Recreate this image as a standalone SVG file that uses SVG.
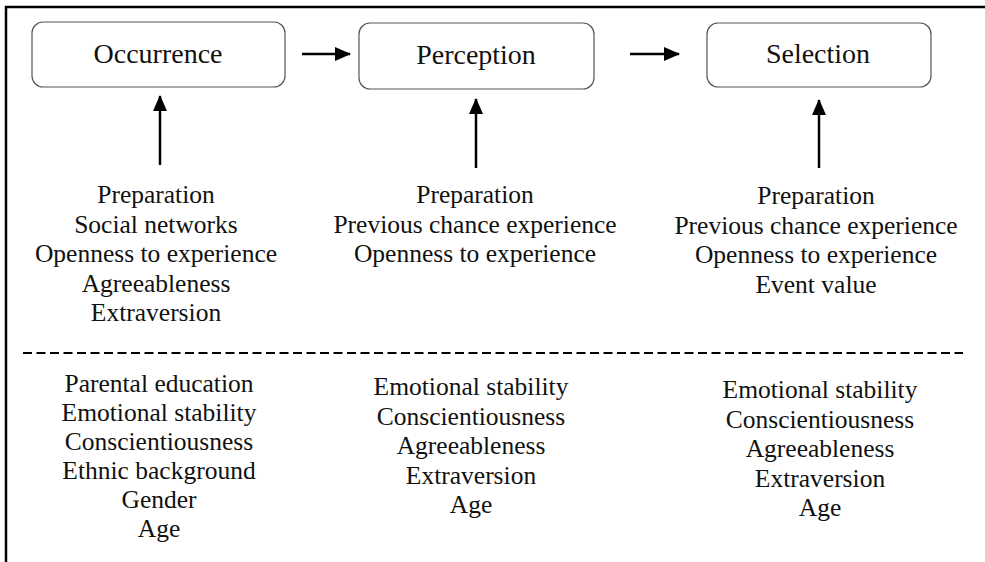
<svg xmlns="http://www.w3.org/2000/svg" width="985" height="562" viewBox="0 0 985 562">
<defs>
<marker id="ah" markerWidth="16" markerHeight="14" refX="15" refY="7" orient="auto" markerUnits="userSpaceOnUse" viewBox="0 0 16 14">
<path d="M0,0 L16,7 L0,14 Z" fill="#000"/>
</marker>
<style>
.box{fill:#fff;stroke:#555;stroke-width:1.2}
.lbl{font-size:28px;fill:#111;text-anchor:middle}
.txt{font-size:25.5px;fill:#111;text-anchor:middle}
.conn{stroke:#000;stroke-width:2.5;fill:none}
</style>
</defs>
<rect width="985" height="562" fill="#fff"/>
<g id="frame" stroke="#000" stroke-width="2.5" fill="none">
<line x1="5" y1="7" x2="985" y2="7"/>
<line x1="6" y1="6" x2="6" y2="562"/>
</g>
<g font-family="'Liberation Serif', 'DejaVu Serif', 'Times New Roman', serif">
<g id="occurrence"><rect class="box" x="32" y="22" width="253" height="65" rx="11"/><text class="lbl" x="158" y="63">Occurrence</text></g>
<g id="perception"><rect class="box" x="359" y="23" width="235" height="66" rx="11"/><text class="lbl" x="476" y="64">Perception</text></g>
<g id="selection"><rect class="box" x="707" y="23" width="224" height="64" rx="11"/><text class="lbl" x="818" y="63">Selection</text></g>
<g id="connectors">
<line class="conn" x1="302" y1="54" x2="350" y2="54" marker-end="url(#ah)"/>
<line class="conn" x1="630" y1="54" x2="679" y2="54" marker-end="url(#ah)"/>
<line class="conn" x1="160" y1="165" x2="160" y2="96" marker-end="url(#ah)"/>
<line class="conn" x1="476" y1="168" x2="476" y2="99" marker-end="url(#ah)"/>
<line class="conn" x1="819" y1="168" x2="819" y2="100" marker-end="url(#ah)"/>
<line x1="23" y1="353" x2="963" y2="353" stroke="#000" stroke-width="2" stroke-dasharray="9 4.5"/>
</g>
<g id="occ-factors">
<text class="txt" x="156" y="203">Preparation</text>
<text class="txt" x="156" y="232.5">Social networks</text>
<text class="txt" x="156" y="262">Openness to experience</text>
<text class="txt" x="156" y="291.5">Agreeableness</text>
<text class="txt" x="156" y="321">Extraversion</text>
</g>
<g id="per-factors">
<text class="txt" x="475" y="203">Preparation</text>
<text class="txt" x="475" y="232.5">Previous chance experience</text>
<text class="txt" x="475" y="262">Openness to experience</text>
</g>
<g id="sel-factors">
<text class="txt" x="816" y="204">Preparation</text>
<text class="txt" x="816" y="233.5">Previous chance experience</text>
<text class="txt" x="816" y="263">Openness to experience</text>
<text class="txt" x="816" y="292.5">Event value</text>
</g>
<g id="occ-nonfactors">
<text class="txt" x="159" y="392">Parental education</text>
<text class="txt" x="159" y="421">Emotional stability</text>
<text class="txt" x="159" y="450">Conscientiousness</text>
<text class="txt" x="159" y="479">Ethnic background</text>
<text class="txt" x="159" y="508">Gender</text>
<text class="txt" x="159" y="537">Age</text>
</g>
<g id="per-nonfactors">
<text class="txt" x="471" y="395">Emotional stability</text>
<text class="txt" x="471" y="424.5">Conscientiousness</text>
<text class="txt" x="471" y="454">Agreeableness</text>
<text class="txt" x="471" y="483.5">Extraversion</text>
<text class="txt" x="471" y="513">Age</text>
</g>
<g id="sel-nonfactors">
<text class="txt" x="820" y="398">Emotional stability</text>
<text class="txt" x="820" y="427.5">Conscientiousness</text>
<text class="txt" x="820" y="457">Agreeableness</text>
<text class="txt" x="820" y="486.5">Extraversion</text>
<text class="txt" x="820" y="516">Age</text>
</g>
</g>
</svg>
